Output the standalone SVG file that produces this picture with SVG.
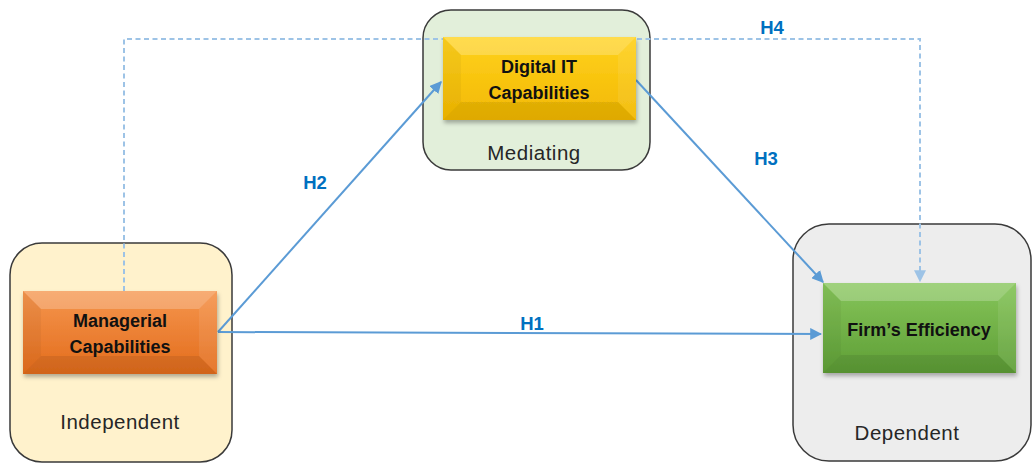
<svg xmlns="http://www.w3.org/2000/svg" width="1032" height="464" viewBox="0 0 1032 464">
  <style>
    .frame { stroke: #3a3a3a; stroke-width: 1.5; }
    .frame-ind { fill: #FFF2CC; }
    .frame-med { fill: #E2EFDA; }
    .frame-dep { fill: #EDEDED; }
    .role { font-family: "Liberation Sans", Arial, sans-serif; font-size: 20.5px; letter-spacing: 0.5px; fill: #262626; text-anchor: middle; }
    .title { font-family: "Liberation Sans", Arial, sans-serif; font-size: 18px; font-weight: bold; fill: #111; text-anchor: middle; }
    .hyp { font-family: "Liberation Sans", Arial, sans-serif; font-size: 18.5px; font-weight: bold; fill: #0070C0; text-anchor: middle; }
    .link { fill: none; stroke: #5B9BD5; stroke-width: 2; }
    .dash { fill: none; stroke: #9DC3E6; stroke-width: 2; stroke-dasharray: 5 3.5; }
    .bev-top { fill: #ffffff; fill-opacity: 0.22; }
    .bev-left { fill: #000000; fill-opacity: 0.04; }
    .bev-right { fill: #ffffff; fill-opacity: 0.08; }
    .bev-bottom { fill: #000000; fill-opacity: 0.08; }
  </style>
  <defs>
    <linearGradient id="gOrange" x1="0" y1="0" x2="0" y2="1">
      <stop offset="0" stop-color="#F5964E"/>
      <stop offset="1" stop-color="#E36C1C"/>
    </linearGradient>
    <linearGradient id="gYellow" x1="0" y1="0" x2="0" y2="1">
      <stop offset="0" stop-color="#FFD21F"/>
      <stop offset="1" stop-color="#F2B800"/>
    </linearGradient>
    <linearGradient id="gGreen" x1="0" y1="0" x2="0" y2="1">
      <stop offset="0" stop-color="#86C55A"/>
      <stop offset="1" stop-color="#5E9E36"/>
    </linearGradient>
    <filter id="shadow" x="-10%" y="-10%" width="130%" height="140%">
      <feDropShadow dx="1" dy="3" stdDeviation="2" flood-color="#000" flood-opacity="0.3"/>
    </filter>
    <marker id="arrow" viewBox="0 0 10 10" refX="9" refY="5" markerWidth="6" markerHeight="6" markerUnits="strokeWidth" orient="auto">
      <path d="M0,0 L10,5 L0,10 z" fill="#5B9BD5"/>
    </marker>
    <marker id="arrowLight" viewBox="0 0 10 10" refX="9" refY="5" markerWidth="6" markerHeight="6" markerUnits="strokeWidth" orient="auto">
      <path d="M0,0 L10,5 L0,10 z" fill="#9DC3E6"/>
    </marker>
  </defs>

  <!-- role frames -->
  <g id="frame-independent">
    <rect class="frame frame-ind" x="10" y="243" width="222" height="219" rx="32"/>
    <text class="role" x="120" y="429">Independent</text>
  </g>
  <g id="frame-mediating">
    <rect class="frame frame-med" x="423" y="10" width="227" height="160" rx="28"/>
    <text class="role" x="534" y="160">Mediating</text>
  </g>
  <g id="frame-dependent">
    <rect class="frame frame-dep" x="793" y="224" width="238" height="237" rx="36"/>
    <text class="role" x="907" y="440">Dependent</text>
  </g>

  <!-- connectors -->
  <g id="connectors">
    <path class="dash" d="M124,291 V39 H920 V281" marker-end="url(#arrowLight)"/>
    <path class="link" d="M218,332 L441,82" marker-end="url(#arrow)"/>
    <path class="link" d="M218,332 L821,334" marker-end="url(#arrow)"/>
    <path class="link" d="M636,80 L823,282" marker-end="url(#arrow)"/>
    <text class="hyp" x="315" y="189">H2</text>
    <text class="hyp" x="532" y="330">H1</text>
    <text class="hyp" x="766" y="165">H3</text>
    <text class="hyp" x="772" y="34">H4</text>
  </g>

  <!-- bevelled variable boxes -->
  <g id="node-managerial" transform="translate(23,291)">
    <rect width="194" height="83" fill="url(#gOrange)" filter="url(#shadow)"/>
    <polygon class="bev-top" points="0,0 194,0 176,18 18,18"/>
    <polygon class="bev-left" points="0,0 18,18 18,65 0,83"/>
    <polygon class="bev-right" points="194,0 194,83 176,65 176,18"/>
    <polygon class="bev-bottom" points="0,83 18,65 176,65 194,83"/>
    <text class="title" x="97" y="36">Managerial</text>
    <text class="title" x="97" y="62">Capabilities</text>
  </g>

  <g id="node-digital-it" transform="translate(443,37)">
    <rect width="193" height="83" fill="url(#gYellow)" filter="url(#shadow)"/>
    <polygon class="bev-top" points="0,0 193,0 175,18 18,18"/>
    <polygon class="bev-left" points="0,0 18,18 18,65 0,83"/>
    <polygon class="bev-right" points="193,0 193,83 175,65 175,18"/>
    <polygon class="bev-bottom" points="0,83 18,65 175,65 193,83"/>
    <text class="title" x="96" y="36">Digital IT</text>
    <text class="title" x="96" y="62">Capabilities</text>
  </g>

  <g id="node-firm-efficiency" transform="translate(823,283)">
    <rect width="193" height="90" fill="url(#gGreen)" filter="url(#shadow)"/>
    <polygon class="bev-top" points="0,0 193,0 175,18 18,18"/>
    <polygon class="bev-left" points="0,0 18,18 18,72 0,90"/>
    <polygon class="bev-right" points="193,0 193,90 175,72 175,18"/>
    <polygon class="bev-bottom" points="0,90 18,72 175,72 193,90"/>
    <text class="title" x="96" y="53">Firm’s Efficiency</text>
  </g>
</svg>
